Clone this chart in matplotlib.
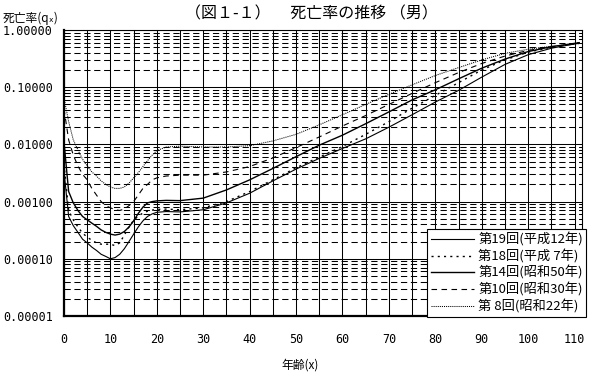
import matplotlib
matplotlib.use("Agg")
import matplotlib.pyplot as plt
from matplotlib.ticker import FixedLocator, NullFormatter, FuncFormatter

plt.rcParams['font.family'] = ['Noto Sans CJK JP', 'DejaVu Sans']

ages = [0, 1, 2, 3, 4, 5, 6, 7, 8, 9, 10, 11, 12, 13, 14, 15, 16, 17, 18, 19,
        20, 22, 25, 30, 35, 40, 45, 50, 55, 60, 65, 70, 75, 80, 85, 90, 95,
        100, 105, 111]

q19 = [0.0034, 0.00055, 0.00038, 0.00029, 0.00022, 0.00019, 0.00016, 0.00014,
       0.00012, 0.00011, 0.00010, 0.000105, 0.00012, 0.00015, 0.00020, 0.00027,
       0.00036, 0.00046, 0.00055, 0.00061, 0.00065, 0.00067, 0.00066, 0.00072,
       0.00095, 0.0014, 0.0023, 0.0037, 0.0057, 0.0085, 0.0125, 0.020, 0.033,
       0.055, 0.088, 0.15, 0.25, 0.37, 0.48, 0.59]

q18 = [0.0045, 0.0007, 0.00048, 0.00036, 0.00028, 0.00024, 0.00021, 0.00019,
       0.00018, 0.00018, 0.00018, 0.00017, 0.00019, 0.00026, 0.00036, 0.00047,
       0.00056, 0.00063, 0.00068, 0.00071, 0.00073, 0.00074, 0.00072, 0.00078,
       0.0010, 0.0015, 0.0024, 0.0039, 0.0060, 0.0092, 0.015, 0.025, 0.043,
       0.072, 0.12, 0.20, 0.30, 0.41, 0.50, 0.60]

q14 = [0.011, 0.0015, 0.00095, 0.0007, 0.00055, 0.00048, 0.00042, 0.00037,
       0.00032, 0.00029, 0.00027, 0.00026, 0.00027, 0.00030, 0.00036, 0.00046,
       0.00062, 0.00080, 0.00095, 0.0010, 0.00103, 0.00105, 0.00104, 0.00115,
       0.0016, 0.0024, 0.0038, 0.0061, 0.0097, 0.0145, 0.023, 0.037, 0.060,
       0.090, 0.14, 0.215, 0.31, 0.42, 0.51, 0.60]

q10 = [0.042, 0.012, 0.0065, 0.0042, 0.0030, 0.0024, 0.0017, 0.0013, 0.0010,
       0.00085, 0.00078, 0.00072, 0.00070, 0.00074, 0.00085, 0.0010, 0.0013,
       0.0017, 0.0020, 0.0024, 0.0026, 0.0028, 0.0029, 0.0029, 0.0033, 0.0041,
       0.0058, 0.0088, 0.0135, 0.021, 0.032, 0.050, 0.078, 0.12, 0.18, 0.26,
       0.35, 0.44, 0.51, 0.58]

q8 = [0.065, 0.025, 0.012, 0.008, 0.0055, 0.0042, 0.0033, 0.0028, 0.0023,
      0.0020, 0.0018, 0.0017, 0.0017, 0.0018, 0.0021, 0.0026, 0.0032, 0.0041,
      0.0052, 0.0065, 0.0078, 0.0090, 0.0093, 0.0090, 0.0090, 0.0095, 0.0115,
      0.0150, 0.022, 0.033, 0.050, 0.075, 0.11, 0.16, 0.22, 0.30, 0.39, 0.46,
      0.52, 0.58]

labels = ["第19回(平成12年)", "第18回(平成 7年)", "第14回(昭和50年)",
          "第10回(昭和30年)", "第 8回(昭和22年)"]

x_ticks = [0, 10, 20, 30, 40, 50, 60, 70, 80, 90, 100, 110]
y_ticks = [1e-5, 1e-4, 1e-3, 1e-2, 1e-1, 1.0]

title = "（図１-１）　 死亡率の推移 （男）"
ylab = "死亡率(qₓ)"
xlab = "年齢(x)"

fig = plt.figure(figsize=(5.98, 3.82), dpi=100)
ax = fig.add_axes([64/598, 1-316/382, 518/598, 286/382])

ax.set_yscale('log')
ax.set_xlim(0, 111.6)
ax.set_ylim(1e-5, 1.0)

styles = [
    dict(ls='-', lw=0.8),
    dict(ls=(0, (1.5, 3)), lw=1.0),
    dict(ls='-', lw=1.0),
    dict(ls=(0, (5, 4)), lw=0.8),
    dict(ls=(0, (1, 1)), lw=0.75),
]
series = [q19, q18, q14, q10, q8]
handles = []
for s, st, lab in zip(series, styles, labels):
    ln, = ax.plot(ages, s, color='black', linestyle=st['ls'], linewidth=st['lw'],
                  label=lab, zorder=3)
    handles.append(ln)

minor = []
for d in range(-5, 0):
    for m in range(2, 10):
        minor.append(m * 10.0 ** d)
ax.yaxis.set_major_locator(FixedLocator(y_ticks))
ax.yaxis.set_minor_locator(FixedLocator(minor))
ax.yaxis.set_minor_formatter(NullFormatter())
ax.yaxis.set_major_formatter(FuncFormatter(lambda v, p: f"{v:.5f}"))
ax.xaxis.set_major_locator(FixedLocator(x_ticks))
ax.xaxis.set_minor_locator(FixedLocator(list(range(5, 112, 10))))

ax.grid(which='major', axis='both', color='black', lw=0.75, ls='-')
ax.grid(which='minor', axis='x', color='black', lw=0.75, ls='-')
ax.grid(which='minor', axis='y', color='black', lw=0.75, ls=(0, (6, 3.5)))
ax.set_axisbelow(True)

ax.tick_params(which='both', length=0)
ax.tick_params(axis='x', pad=12)
ax.tick_params(axis='y', pad=8)
for lbl in ax.get_xticklabels() + ax.get_yticklabels():
    lbl.set_family('DejaVu Sans Mono')
    lbl.set_fontsize(8.5)

for sp in ['left', 'bottom']:
    ax.spines[sp].set_linewidth(1.6)
for sp in ['top', 'right']:
    ax.spines[sp].set_linewidth(0.8)

leg = ax.legend(handles=handles, loc='lower right', bbox_to_anchor=(1.008, -0.002),
                borderaxespad=0, frameon=True, fancybox=False, framealpha=1,
                edgecolor='black', fontsize=9.5, handlelength=3.3,
                handletextpad=0.3, labelspacing=0.2, borderpad=0.25)
leg.get_frame().set_linewidth(0.8)
leg.set_zorder(5)

fig.text(311/598, 1-14/382, title, ha='center', va='center', fontsize=11.5)
fig.text(3/598, 1-18/382, ylab, ha='left', va='center', fontsize=8.5)
fig.text(300/598, 1-365/382, xlab, ha='center', va='center', fontsize=8.5)

fig.savefig('out.png', dpi=100)
